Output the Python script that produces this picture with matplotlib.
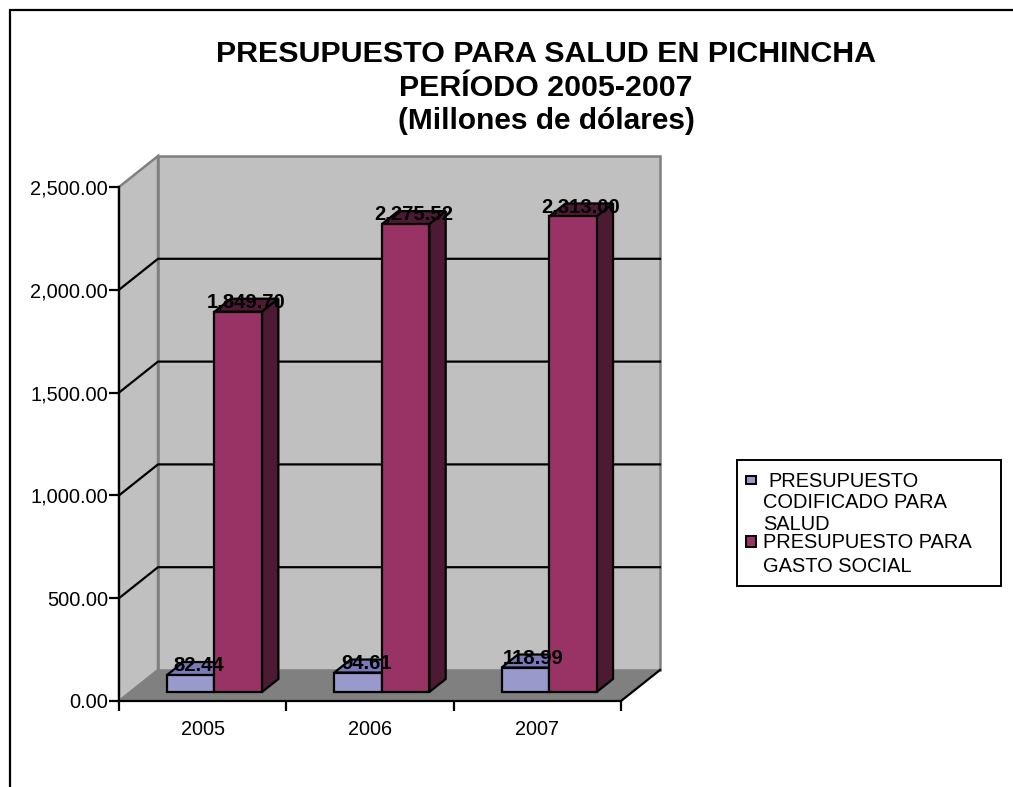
"""
Presupuesto para salud en Pichincha, fake 3D bar chart (Excel style)
"""
import matplotlib
matplotlib.use("Agg")
import matplotlib.pyplot as plt
from matplotlib.patches import Polygon, Rectangle

plt.rcParams['font.family'] = ['Liberation Sans', 'DejaVu Sans']

# Data
years = ['2005', '2006', '2007']
salud = [82.44, 94.61, 118.99]
gasto = [1849.70, 2275.52, 2313.00]
y_ticks = [0, 500, 1000, 1500, 2000, 2500]
title_lines = ['PRESUPUESTO PARA SALUD EN PICHINCHA', 'PERÍODO 2005-2007', '(Millones de dólares)']
legend_salud = ['PRESUPUESTO', 'CODIFICADO PARA', 'SALUD']
legend_gasto = ['PRESUPUESTO PARA', 'GASTO SOCIAL']

# Colours
blue, blue_top = '#9999CC', '#7A7AB8'
maroon, maroon_side = '#993366', '#4D1A33'
wall, floor = '#C0C0C0', '#808080'

W, H = 1013, 787
fig = plt.figure(figsize=(W / 100, H / 100), dpi=100)

# outer frame, only left and top edges fall inside the image
fig.add_artist(Rectangle((9.5 / W, -0.05), 1.1, 1.05 - 10 / H, transform=fig.transFigure,
                         fill=False, ec='black', lw=1.6))

# axes = front plane of the 3D box
left, right, top, bottom = 119, 621, 187, 701
ax = fig.add_axes([left / W, 1 - bottom / H, (right - left) / W, (bottom - top) / H])
ax.set_xlim(0, 3)
ax.set_ylim(0, 2500)
ax.patch.set_visible(False)

# depth of the box in data units
DX = 39 / ((right - left) / 3)
DY = 31 / ((bottom - top) / 2500)


def proj(x, y, d):
    return (x + d * DX, y + d * DY)


def add_poly(pts, fc, ec='black', lw=1.6, z=2):
    ax.add_patch(Polygon(pts, closed=True, fc=fc, ec=ec, lw=lw, zorder=z, clip_on=False, joinstyle='miter'))


# walls and floor
add_poly([proj(0, 0, 1), proj(3, 0, 1), proj(3, 2500, 1), proj(0, 2500, 1)], wall, ec=floor, lw=1.8, z=1)
add_poly([proj(0, 0, 0), proj(0, 0, 1), proj(0, 2500, 1), proj(0, 2500, 0)], wall, ec=floor, lw=1.8, z=1)
add_poly([proj(0, 0, 0), proj(3, 0, 0), proj(3, 0, 1), proj(0, 0, 1)], floor, ec='black', lw=0, z=1)
# floor edge on the right
ax.plot(*zip(proj(3, 0, 0), proj(3, 0, 1)), color='black', lw=1.6, zorder=1.5, clip_on=False)

# gridlines on both walls
for v in y_ticks[1:-1]:
    ax.plot(*zip(proj(0, v, 0), proj(0, v, 1), proj(3, v, 1)), color='black', lw=1.6, zorder=1.5, clip_on=False)


def bar3d(x0, w, v, fc, fc_top, fc_side, d0=0.29, d1=0.71):
    add_poly([proj(x0, 0, d0), proj(x0 + w, 0, d0), proj(x0 + w, v, d0), proj(x0, v, d0)], fc, z=4)
    add_poly([proj(x0, v, d0), proj(x0 + w, v, d0), proj(x0 + w, v, d1), proj(x0, v, d1)], fc_top, z=3)
    add_poly([proj(x0 + w, 0, d0), proj(x0 + w, 0, d1), proj(x0 + w, v, d1), proj(x0 + w, v, d0)], fc_side, z=3)


bar_w = 0.284
start = 0.219
for i, yr in enumerate(years):
    bar3d(i + start, bar_w, salud[i], blue, blue_top, blue_top)
    bar3d(i + start + bar_w, bar_w, gasto[i], maroon, maroon_side, maroon_side)

# value labels, a little above the bar's centre depth
label_lift = 13
for i in range(3):
    xa, ya = proj(i + start + bar_w * 0.5, salud[i], 0.5)
    ax.text(xa, ya + label_lift, f'{salud[i]:,.2f}', ha='center', va='center',
            fontsize=14.6, fontweight='bold', zorder=6)
    xb, yb = proj(i + start + bar_w * 1.5, gasto[i], 0.5)
    ax.text(xb, yb + label_lift, f'{gasto[i]:,.2f}', ha='center', va='center',
            fontsize=14.6, fontweight='bold', zorder=6)

# axis
for s in ['top', 'right']:
    ax.spines[s].set_visible(False)
ax.spines['left'].set_linewidth(1.6)
ax.spines['bottom'].set_linewidth(1.6)
ax.spines['left'].set_zorder(7)
ax.spines['bottom'].set_zorder(7)
ax.set_yticks(y_ticks)
ax.set_yticklabels([f'{v:,.2f}' for v in y_ticks], fontsize=14.4)
ax.set_xticks([0, 1, 2, 3])
ax.set_xticklabels([])
ax.set_xticks([0.5, 1.5, 2.5], labels=years, minor=True, fontsize=14.3)
ax.tick_params(axis='x', which='minor', length=0, pad=13.5)
ax.tick_params(axis='both', which='major', direction='out', length=7, width=1.6, pad=1)

# title
for line, yp, fs in zip(title_lines, [54, 88, 121], [21.9, 21.9, 21.5]):
    fig.text(546 / W, 1 - yp / H, line, ha='center', va='center', fontsize=fs, fontweight='bold')

# legend, drawn by hand to keep its uneven line spacing
fig.add_artist(Rectangle((737 / W, 1 - 586 / H), 264 / W, 126 / H, transform=fig.transFigure,
                         fc='white', ec='black', lw=1.4))
for sx, sy, sh, col in [(745.5, 476, 8, blue), (745.5, 536, 10.5, maroon)]:
    fig.add_artist(Rectangle((sx / W, 1 - (sy + sh) / H), 10.5 / W, sh / H, transform=fig.transFigure,
                             fc=col, ec='black', lw=1.4))
for line, xp, yp in zip(legend_salud, [768, 763, 763], [481, 502, 525]):
    fig.text(xp / W, 1 - yp / H, line, ha='left', va='center', fontsize=14.4)
for line, xp, yp in zip(legend_gasto, [763, 763], [543, 567]):
    fig.text(xp / W, 1 - yp / H, line, ha='left', va='center', fontsize=14.4)

fig.savefig('out.png', dpi=100)
